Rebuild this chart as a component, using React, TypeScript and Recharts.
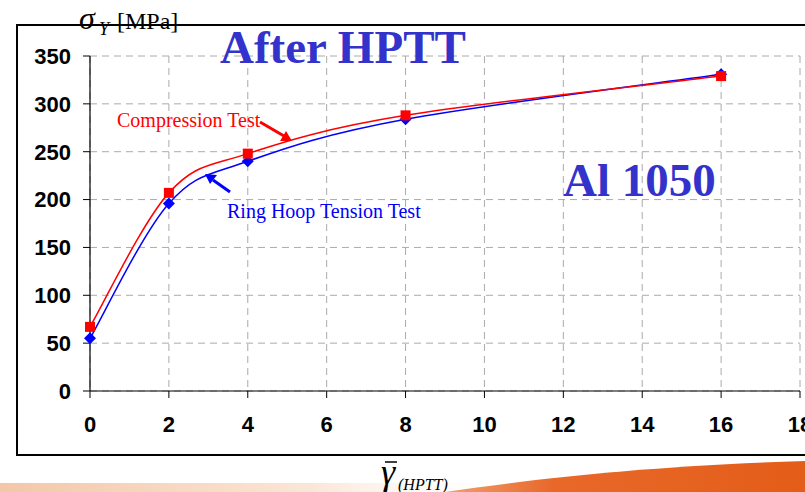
import { LineChart, Line, XAxis, YAxis, CartesianGrid } from "recharts";

// equivalent strain after HPTT
const strain = [0, 2, 4, 8, 16];
// yield stress [MPa]
const compression = [67, 207, 248, 288, 329];
const ringHoop = [55, 196, 240, 284, 331];

const xTicks = [0, 2, 4, 6, 8, 10, 12, 14, 16, 18];
const yTicks = [0, 50, 100, 150, 200, 250, 300, 350];

const data = strain.map((x, i) => ({ x, comp: compression[i], ring: ringHoop[i] }));

const tickFont = {
  fontFamily: "'Liberation Sans', Arial, sans-serif",
  fontWeight: 700,
  fontSize: 22,
  fill: "#000",
};
const serif = "'Liberation Serif', 'Times New Roman', serif";

// spreadsheet-style smoothed line (Catmull-Rom as cubic Bezier)
const smoothCurve = (context: any) => {
  let pts: number[][] = [];
  return {
    areaStart() {},
    areaEnd() {},
    lineStart() {
      pts = [];
    },
    point(x: number, y: number) {
      pts.push([+x, +y]);
    },
    lineEnd() {
      if (!pts.length) return;
      context.moveTo(pts[0][0], pts[0][1]);
      for (let i = 0; i < pts.length - 1; i++) {
        const p0 = pts[i - 1] || pts[i];
        const p1 = pts[i];
        const p2 = pts[i + 1];
        const p3 = pts[i + 2] || p2;
        context.bezierCurveTo(
          p1[0] + (p2[0] - p0[0]) / 6,
          p1[1] + (p2[1] - p0[1]) / 6,
          p2[0] - (p3[0] - p1[0]) / 6,
          p2[1] - (p3[1] - p1[1]) / 6,
          p2[0],
          p2[1]
        );
      }
    },
  };
};

const Square = (props: any) => {
  const { cx, cy, index } = props;
  return <rect key={`sq-${index}`} x={cx - 5} y={cy - 5} width={10} height={10} fill="#ff0000" />;
};

const Diamond = (props: any) => {
  const { cx, cy, index } = props;
  return (
    <path
      key={`dm-${index}`}
      d={`M${cx},${cy - 6}L${cx + 6},${cy}L${cx},${cy + 6}L${cx - 6},${cy}Z`}
      fill="#0000ff"
    />
  );
};

export default function App() {
  return (
    <div style={{ position: "absolute", left: 0, top: 0, width: 805, height: 492, overflow: "hidden", background: "#fff" }}>
      <svg width={805} height={492} style={{ position: "absolute", left: 0, top: 0 }}>
        <defs>
          <linearGradient id="peach" x1="0" x2="1" y1="0" y2="0">
            <stop offset="0" stopColor="#f3c7a8" />
            <stop offset="0.6" stopColor="#fbe6d6" />
            <stop offset="1" stopColor="#fff" stopOpacity={0} />
          </linearGradient>
          <linearGradient id="orange" x1="0" x2="1" y1="0" y2="0">
            <stop offset="0" stopColor="#f0a070" />
            <stop offset="0.3" stopColor="#e8682a" />
            <stop offset="1" stopColor="#e45d18" />
          </linearGradient>
        </defs>
        <rect x={0} y={483} width={520} height={9} fill="url(#peach)" />
        <path d="M445 492 C540 478 650 466 805 461 L805 492 Z" fill="url(#orange)" />
      </svg>
      <div style={{ position: "absolute", left: 0, top: 0 }}>
        <LineChart width={805} height={492} data={data} margin={{ top: 56, right: 5, left: 0, bottom: 41 }}>
          <CartesianGrid stroke="#aaaaaa" strokeDasharray="7 5" />
          <XAxis
            dataKey="x"
            type="number"
            domain={[0, 18]}
            ticks={xTicks}
            height={60}
            tickSize={7}
            tickMargin={18}
            axisLine={{ stroke: "#000", strokeWidth: 1.2 }}
            tickLine={{ stroke: "#000" }}
            tick={tickFont}
            interval={0}
          />
          <YAxis
            type="number"
            domain={[0, 350]}
            ticks={yTicks}
            width={90}
            tickSize={7}
            tickMargin={12}
            axisLine={{ stroke: "#000", strokeWidth: 1.2 }}
            tickLine={{ stroke: "#000" }}
            tick={tickFont}
            interval={0}
          />
          <Line
            dataKey="ring"
            type={smoothCurve as any}
            stroke="#0000ff"
            strokeWidth={1.5}
            dot={Diamond}
            activeDot={false}
            isAnimationActive={false}
          />
          <Line
            dataKey="comp"
            type={smoothCurve as any}
            stroke="#ff0000"
            strokeWidth={1.5}
            dot={Square}
            activeDot={false}
            isAnimationActive={false}
          />
        </LineChart>
      </div>
      <svg width={805} height={492} style={{ position: "absolute", left: 0, top: 0, pointerEvents: "none" }}>
        <rect x={17} y={25} width={900} height={430} fill="none" stroke="#000" strokeWidth={2} />
        <text x={79} y={29} fontFamily={serif} fontStyle="italic" fontSize={32}>σ</text>
        <text x={99} y={35} fontFamily={serif} fontStyle="italic" fontSize={18}>Y</text>
        <text x={117} y={29} fontFamily={serif} fontSize={24}>[MPa]</text>
        <text x={220} y={63} fontFamily={serif} fontWeight={700} fontSize={47} fill="#3333cc">After HPTT</text>
        <text x={563} y={196} fontFamily={serif} fontWeight={700} fontSize={47} fill="#3333cc">Al 1050</text>
        <text x={117} y={127} fontFamily={serif} fontSize={20} fill="#ff0000">Compression Test</text>
        <text x={227} y={218} fontFamily={serif} fontSize={20} fill="#0000ff">Ring Hoop Tension Test</text>
        <line x1={260} y1={122} x2={284} y2={136} stroke="#ff0000" strokeWidth={3} />
        <path d="M292 141 L280 141 L286 131 Z" fill="#ff0000" />
        <line x1={230} y1={192} x2={213} y2={180} stroke="#0000ff" strokeWidth={3} />
        <path d="M205 174 L217 175 L210 184 Z" fill="#0000ff" />
        <line x1={385} y1={462} x2={397} y2={462} stroke="#000" strokeWidth={1.5} />
        <text x={381} y={484} fontFamily={serif} fontStyle="italic" fontSize={36}>γ</text>
        <text x={398} y={490} fontFamily={serif} fontStyle="italic" fontSize={16}>(HPTT)</text>
      </svg>
    </div>
  );
}
